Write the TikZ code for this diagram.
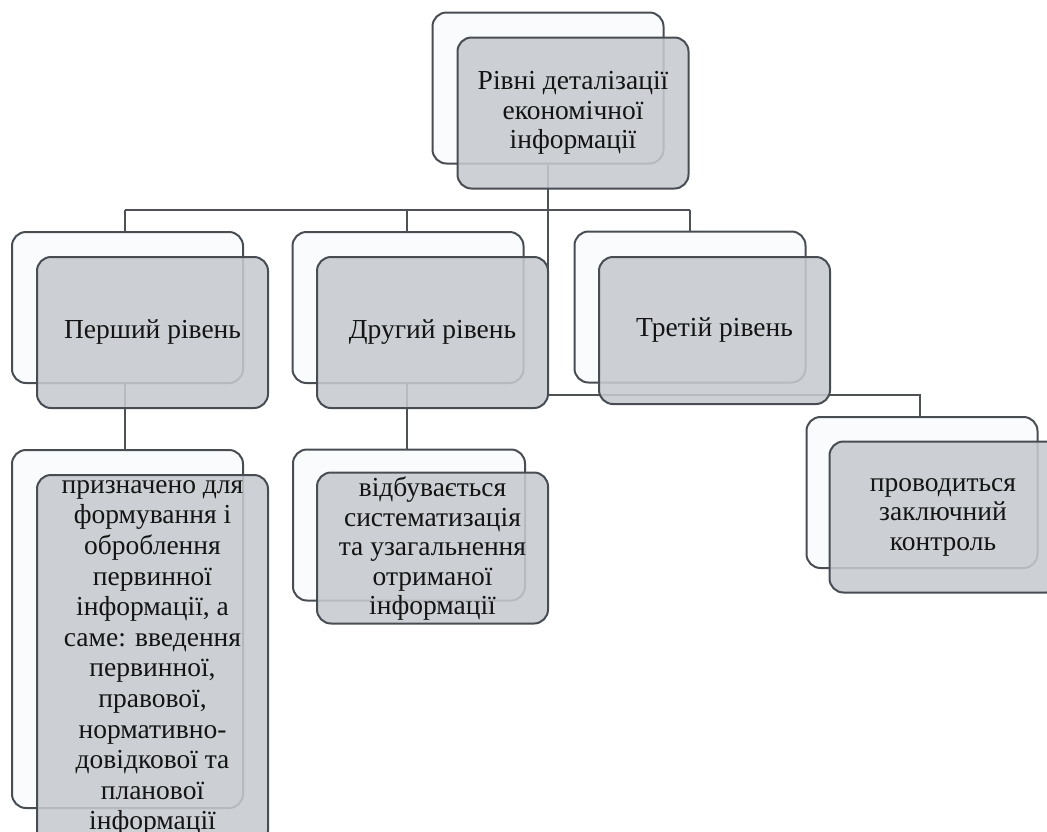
\documentclass[tikz,border=0pt]{standalone}
\usepackage{fontspec}
\setmainfont{Liberation Serif}
\newfontfamily\tnrfont{Liberation Serif}
\definecolor{boxline}{RGB}{72,77,83}
\definecolor{linecol}{RGB}{78,82,86}
\definecolor{frontfill}{RGB}{198,201,206}
\definecolor{backfill}{RGB}{250,251,253}
\definecolor{textcol}{RGB}{20,20,20}
\tikzset{
  backbox/.style={draw=boxline, line width=2pt, fill=backfill, rounded corners=14pt, inner sep=0pt, minimum width=231pt, minimum height=151pt},
  frontbox/.style={draw=boxline, line width=2pt, fill=frontfill, fill opacity=0.88, rounded corners=14pt, inner sep=0pt, minimum width=231pt, minimum height=151pt},
  conn/.style={draw=linecol, line width=1.6pt},
  txt/.style={font=\tnrfont\fontsize{27.5}{29.5}\selectfont, align=center, text=textcol, inner sep=0pt}
}
\begin{document}
\begin{tikzpicture}[x=1pt,y=-1pt]
\useasboundingbox (0,0) rectangle (1047,831);
\clip (0,0) rectangle (1047,831);
% named coordinates for connectors
\coordinate (bus) at (548,210);
\coordinate (busL) at (125,210);
\coordinate (busR) at (690,210);
\coordinate (busM) at (407,210);
\coordinate (bend) at (548,395);
\coordinate (bendR) at (920,395);
% invisible anchors for connector ends
\path
  node[backbox, draw=none, fill=none] (topB) at (548,88) {}
  node[backbox, draw=none, fill=none] (p1B) at (127.5,307.5) {}
  node[backbox, draw=none, fill=none] (p2B) at (408,307.5) {}
  node[backbox, draw=none, fill=none] (p3B) at (690,307) {}
  node[backbox, draw=none, fill=none, minimum height=358pt] (c1B) at (127.5,629) {}
  node[backbox, draw=none, fill=none, minimum width=232pt] (c2B) at (409,525) {}
  node[backbox, draw=none, fill=none] (c3B) at (922,492.5) {};
% connectors
\draw[conn] (topB.south -| bus) -- (bus);
\draw[conn] (busL) -- (busR);
\draw[conn] (busL) -- (busL |- p1B.north);
\draw[conn] (busM) -- (busM |- p2B.north);
\draw[conn] (busR) -- (busR |- p3B.north);
\draw[conn] (bus) -- (bend) -- (bendR) -- (bendR |- c3B.north);
\draw[conn] (busL |- p1B.south) -- (busL |- c1B.north);
\draw[conn] (busM |- p2B.south) -- (busM |- c2B.north);
% top node
\node[backbox] (topBack) at (548,88) {};
\node[frontbox] (topF) at (573,113) {};
\node[txt] (topT) at (573,113) {Рівні деталізації\\економічної\\інформації};
% level 2
\node[backbox] (p1Back) at (127.5,307.5) {};
\node[frontbox] (p1F) at (152.5,332.5) {};
\node[txt] (p1T) at (152.5,332.5) {Перший рівень};
\node[backbox] (p2Back) at (408,307.5) {};
\node[frontbox] (p2F) at (432.5,332.5) {};
\node[txt] (p2T) at (432.5,332.5) {Другий рівень};
\node[backbox] (p3Back) at (690,307) {};
\node[frontbox, minimum height=147pt] (p3F) at (714.5,330.5) {};
\node[txt] (p3T) at (714.5,330.5) {Третій рівень};
% level 3
\node[backbox, minimum height=358pt] (c1Back) at (127.5,629) {};
\node[frontbox, minimum height=370pt] (c1F) at (152.5,660) {};
\node[txt, font=\tnrfont\fontsize{27.5}{30.6}\selectfont] (c1T) at (152.5,658) {призначено для\\формування і\\оброблення\\первинної\\інформації, а\\саме: введення\\первинної,\\правової,\\нормативно-\\довідкової та\\планової\\інформації};
\node[backbox, minimum width=232pt] (c2Back) at (409,525) {};
\node[frontbox] (c2F) at (432.5,548) {};
\node[txt] (c2T) at (432.5,549) {відбувається\\систематизація\\та узагальнення\\отриманої\\інформації};
\node[backbox] (c3Back) at (922,492.5) {};
\node[frontbox] (c3F) at (945,517) {};
\node[txt] (c3T) at (943,517) {проводиться\\заключний\\контроль};
\end{tikzpicture}
\end{document}
